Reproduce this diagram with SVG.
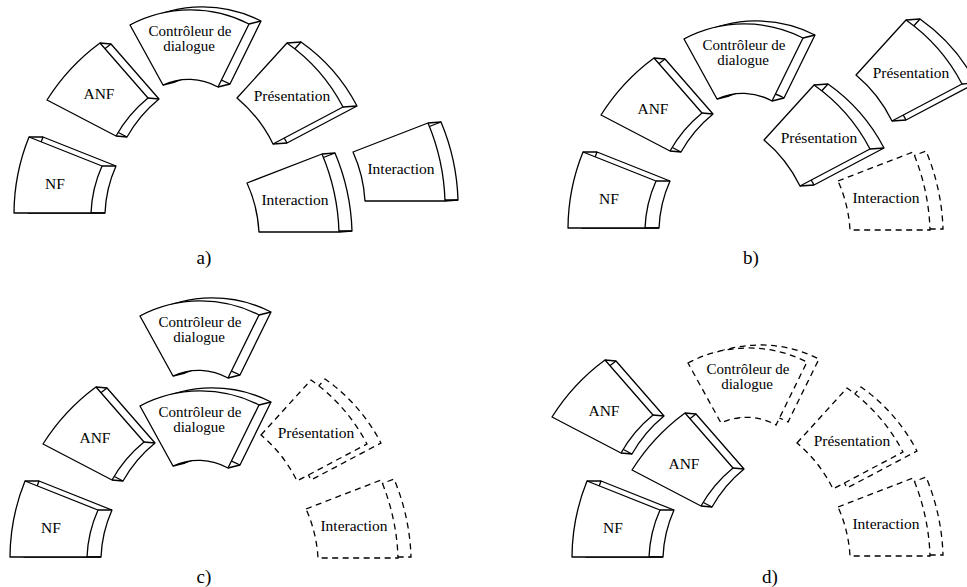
<svg xmlns="http://www.w3.org/2000/svg" xmlns:xlink="http://www.w3.org/1999/xlink" width="967" height="587" viewBox="0 0 967 587" font-family="'Liberation Serif', 'DejaVu Serif', Times, serif">
<style>
.f{fill:#fff;stroke:#000;stroke-width:1.3;stroke-linejoin:round}
.d{fill:#fff;stroke:#000;stroke-width:1.3;stroke-dasharray:6 4.5}
.c{fill:none;stroke:#000;stroke-width:1.3}
text{font-family:'Liberation Serif','DejaVu Serif',Times,serif;font-size:15.5px;text-anchor:middle;fill:#000}
.two{font-size:15px}
.lbl{font-size:19px}
</style>
<defs>
<path id="nf" d="M29,137 L102,166 A128,128 0 0,0 91,213 L14,213 A206,206 0 0,1 29,137 Z"/>
<path id="anf" d="M100,43 L148,98 A134,134 0 0,0 116,136 L47,100 A209,209 0 0,1 100,43 Z"/>
<path id="cd" d="M130,25 A129,129 0 0,1 249,24 L218,87 A60,60 0 0,0 163,85 Z"/>
<path id="pr" d="M237,98 L287,43 A180,180 0 0,1 343,107 L273,144 A140,140 0 0,0 237,98 Z"/>
<path id="in" d="M247,183 L322,154 A218,218 0 0,1 339,232 L259,232 A137,137 0 0,0 247,183 Z"/>
</defs>

<!-- Panel a -->
<g id="a-nf">
<use href="#nf" xlink:href="#nf" class="f" transform="translate(14,0)"/>
<path class="c" d="M29,137h14M102,166h14M91,213h14"/>
<use href="#nf" xlink:href="#nf" class="f"/>
<text x="55" y="189">NF</text>
</g>
<g id="a-anf">
<use href="#anf" xlink:href="#anf" class="f" transform="translate(11,1)"/>
<path class="c" d="M100,43l11,1M148,98l11,1M116,136l11,1"/>
<use href="#anf" xlink:href="#anf" class="f"/>
<text x="99" y="99">ANF</text>
</g>
<g id="a-cd">
<use href="#cd" xlink:href="#cd" class="f" transform="translate(12,-3)"/>
<path class="c" d="M130,25l12,-3M249,24l12,-3M218,87l12,-3M163,85l12,-3"/>
<use href="#cd" xlink:href="#cd" class="f"/>
<text class="two" x="190" y="36"><tspan x="190">Contrôleur de</tspan><tspan x="189" dy="15">dialogue</tspan></text>
</g>
<g id="a-pr">
<use href="#pr" xlink:href="#pr" class="f" transform="translate(14,-1)"/>
<path class="c" d="M287,43l14,-1M343,107l14,-1M273,144l14,-1"/>
<use href="#pr" xlink:href="#pr" class="f"/>
<text x="292" y="101">Présentation</text>
</g>
<g id="a-in1">
<use href="#in" xlink:href="#in" class="f" transform="translate(13,-1)"/>
<path class="c" d="M322,154l13,-1M339,232l13,-1"/>
<use href="#in" xlink:href="#in" class="f"/>
<text x="295" y="205">Interaction</text>
</g>
<g id="a-in2" transform="translate(106,-31)">
<use href="#in" xlink:href="#in" class="f" transform="translate(13,-1)"/>
<path class="c" d="M322,154l13,-1M339,232l13,-1"/>
<use href="#in" xlink:href="#in" class="f"/>
<text x="295" y="205">Interaction</text>
</g>
<text class="lbl" x="204" y="264">a)</text>

<!-- Panel b -->
<g id="b-nf" transform="translate(554,15)">
<use href="#nf" xlink:href="#nf" class="f" transform="translate(14,0)"/>
<path class="c" d="M29,137h14M102,166h14M91,213h14"/>
<use href="#nf" xlink:href="#nf" class="f"/>
<text x="55" y="189">NF</text>
</g>
<g id="b-anf" transform="translate(554,15)">
<use href="#anf" xlink:href="#anf" class="f" transform="translate(11,1)"/>
<path class="c" d="M100,43l11,1M148,98l11,1M116,136l11,1"/>
<use href="#anf" xlink:href="#anf" class="f"/>
<text x="99" y="99">ANF</text>
</g>
<g id="b-cd" transform="translate(554,14)">
<use href="#cd" xlink:href="#cd" class="f" transform="translate(12,-3)"/>
<path class="c" d="M130,25l12,-3M249,24l12,-3M218,87l12,-3M163,85l12,-3"/>
<use href="#cd" xlink:href="#cd" class="f"/>
<text class="two" x="190" y="36"><tspan x="190">Contrôleur de</tspan><tspan x="189" dy="15">dialogue</tspan></text>
</g>
<g id="b-pr2" transform="translate(619,-23)">
<use href="#pr" xlink:href="#pr" class="f" transform="translate(14,-1)"/>
<path class="c" d="M287,43l14,-1M343,107l14,-1M273,144l14,-1"/>
<use href="#pr" xlink:href="#pr" class="f"/>
<text x="292" y="101">Présentation</text>
</g>
<g id="b-pr1" transform="translate(527,42)">
<use href="#pr" xlink:href="#pr" class="f" transform="translate(14,-1)"/>
<path class="c" d="M287,43l14,-1M343,107l14,-1M273,144l14,-1"/>
<use href="#pr" xlink:href="#pr" class="f"/>
<text x="292" y="101">Présentation</text>
</g>
<g id="b-in" transform="translate(591,-2)">
<use href="#in" xlink:href="#in" class="d" transform="translate(13,-1)"/>
<use href="#in" xlink:href="#in" class="d"/>
<text x="295" y="205">Interaction</text>
</g>
<text class="lbl" x="751" y="264">b)</text>

<!-- Panel c -->
<g id="c-nf" transform="translate(-4,344)">
<use href="#nf" xlink:href="#nf" class="f" transform="translate(14,0)"/>
<path class="c" d="M29,137h14M102,166h14M91,213h14"/>
<use href="#nf" xlink:href="#nf" class="f"/>
<text x="55" y="189">NF</text>
</g>
<g id="c-anf" transform="translate(-4,344)">
<use href="#anf" xlink:href="#anf" class="f" transform="translate(11,1)"/>
<path class="c" d="M100,43l11,1M148,98l11,1M116,136l11,1"/>
<use href="#anf" xlink:href="#anf" class="f"/>
<text x="99" y="99">ANF</text>
</g>
<g id="c-cd1" transform="translate(10,291)">
<use href="#cd" xlink:href="#cd" class="f" transform="translate(12,-3)"/>
<path class="c" d="M130,25l12,-3M249,24l12,-3M218,87l12,-3M163,85l12,-3"/>
<use href="#cd" xlink:href="#cd" class="f"/>
<text class="two" x="190" y="36"><tspan x="190">Contrôleur de</tspan><tspan x="189" dy="15">dialogue</tspan></text>
</g>
<g id="c-cd2" transform="translate(10,381)">
<use href="#cd" xlink:href="#cd" class="f" transform="translate(12,-3)"/>
<path class="c" d="M130,25l12,-3M249,24l12,-3M218,87l12,-3M163,85l12,-3"/>
<use href="#cd" xlink:href="#cd" class="f"/>
<text class="two" x="190" y="36"><tspan x="190">Contrôleur de</tspan><tspan x="189" dy="15">dialogue</tspan></text>
</g>
<g id="c-pr" transform="translate(24,337)">
<use href="#pr" xlink:href="#pr" class="d" transform="translate(14,-1)"/>
<use href="#pr" xlink:href="#pr" class="d"/>
<text x="292" y="101">Présentation</text>
</g>
<g id="c-in" transform="translate(59,326)">
<use href="#in" xlink:href="#in" class="d" transform="translate(13,-1)"/>
<use href="#in" xlink:href="#in" class="d"/>
<text x="295" y="205">Interaction</text>
</g>
<text class="lbl" x="204" y="583">c)</text>

<!-- Panel d -->
<g id="d-anf1" transform="translate(505,317)">
<use href="#anf" xlink:href="#anf" class="f" transform="translate(11,1)"/>
<path class="c" d="M100,43l11,1M148,98l11,1M116,136l11,1"/>
<use href="#anf" xlink:href="#anf" class="f"/>
<text x="99" y="99">ANF</text>
</g>
<g id="d-nf" transform="translate(558,344)">
<use href="#nf" xlink:href="#nf" class="f" transform="translate(14,0)"/>
<path class="c" d="M29,137h14M102,166h14M91,213h14"/>
<use href="#nf" xlink:href="#nf" class="f"/>
<text x="55" y="189">NF</text>
</g>
<g id="d-anf2" transform="translate(585,370)">
<use href="#anf" xlink:href="#anf" class="f" transform="translate(11,1)"/>
<path class="c" d="M100,43l11,1M148,98l11,1M116,136l11,1"/>
<use href="#anf" xlink:href="#anf" class="f"/>
<text x="99" y="99">ANF</text>
</g>
<g id="d-cd" transform="translate(558,338)">
<use href="#cd" xlink:href="#cd" class="d" transform="translate(12,-3)"/>
<use href="#cd" xlink:href="#cd" class="d"/>
<text class="two" x="190" y="36"><tspan x="190">Contrôleur de</tspan><tspan x="189" dy="15">dialogue</tspan></text>
</g>
<g id="d-pr" transform="translate(560,345)">
<use href="#pr" xlink:href="#pr" class="d" transform="translate(14,-1)"/>
<use href="#pr" xlink:href="#pr" class="d"/>
<text x="292" y="101">Présentation</text>
</g>
<g id="d-in" transform="translate(591,324)">
<use href="#in" xlink:href="#in" class="d" transform="translate(13,-1)"/>
<use href="#in" xlink:href="#in" class="d"/>
<text x="295" y="205">Interaction</text>
</g>
<text class="lbl" x="770" y="583">d)</text>
</svg>
